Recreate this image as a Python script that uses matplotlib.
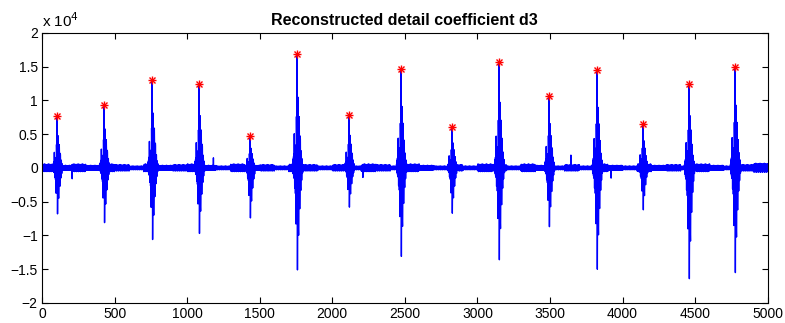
import numpy as np
import matplotlib
matplotlib.use("Agg")
import matplotlib.pyplot as plt

plt.rcParams['font.family'] = ['Liberation Sans', 'DejaVu Sans']

# signal length (samples)
n_samples = 5000

# R-peak positions, peak heights and trough depths (x 10^4)
peak_pos = [103, 427, 758, 1081, 1432, 1756, 2114, 2472, 2823, 3147, 3492, 3822, 4139, 4456, 4773]
peak_val = [0.77, 0.93, 1.31, 1.25, 0.47, 1.69, 0.78, 1.47, 0.60, 1.57, 1.06, 1.45, 0.65, 1.25, 1.50]
trough_val = [-0.68, -0.81, -1.06, -0.97, -0.74, -1.51, -0.58, -1.31, -0.67, -1.36, -0.87, -1.50, -0.62, -1.64, -1.55]

# beat burst shape, offsets -30..+40 (positive part scaled by peak, negative by trough)
beat_shape = [0.04, -0.05, 0.06, -0.04, 0.08, -0.06, 0.10, -0.08, 0.12, -0.10,
              0.22, 0.30, 0.10, -0.15, -0.20, 0.05, 0.18, 0.10, -0.15, -0.25,
              -0.10, 0.20, -0.30, -0.55, -0.40, 0.10, 0.45, 0.25, -0.25, 0.50,
              1.00,
              0.40, -0.50, -1.00, -0.60, 0.10, 0.50, 0.62, 0.45, -0.20, -0.60,
              -0.66, -0.45, 0.05, 0.40, 0.45, 0.30, -0.10, -0.38, -0.40, -0.25,
              0.10, 0.28, 0.25, 0.05, -0.18, -0.22, -0.10, 0.10, 0.15, 0.08,
              -0.08, -0.12, -0.06, 0.06, 0.08, 0.03, -0.04, -0.05, 0.02, 0.03]
shape_start = -30

# baseline wiggle pattern and its amplitude per 100 samples
noise_pattern = [0.3, -0.5, 0.8, -0.2, -0.9, 0.6, 0.1, -0.4, 0.9, -0.7, 0.2, 0.5, -0.8, 0.4,
                 -0.1, -0.6, 1.0, -0.3, 0.7, -0.9, 0.2, -0.2, 0.6, -0.5, 0.9, -0.8, 0.1, 0.4, -0.6]
noise_env = [0.06, 0.04, 0.06, 0.04, 0.06, 0.05, 0.03, 0.06, 0.04, 0.05,
             0.06, 0.04, 0.03, 0.06, 0.04, 0.05, 0.03, 0.06, 0.05, 0.03,
             0.05, 0.03, 0.06, 0.05, 0.03, 0.06, 0.04, 0.03, 0.05, 0.03,
             0.06, 0.05, 0.03, 0.06, 0.04, 0.03, 0.05, 0.03, 0.06, 0.04,
             0.03, 0.06, 0.04, 0.05, 0.03, 0.06, 0.04, 0.03, 0.05, 0.07]

# isolated small spikes in the baseline
spike_pos = [207, 1180, 2210, 3643, 3920]
spike_val = [-0.16, 0.15, -0.14, 0.19, -0.15]

# build signal
sig = np.zeros(n_samples)
pat = np.array(noise_pattern)
env = np.repeat(noise_env, 100)
sig += np.resize(pat, n_samples) * env[:n_samples]
for p, s in zip(spike_pos, spike_val):
    sig[p] = s
shape = np.array(beat_shape)
for p, pk, tr in zip(peak_pos, peak_val, trough_val):
    scaled = np.where(shape > 0, shape * pk, shape * abs(tr))
    idx = np.arange(len(shape)) + p + shape_start
    sig[idx] = scaled
x = np.arange(1, n_samples + 1)

fig = plt.figure(figsize=(7.85, 3.23), dpi=100)
ax = fig.add_axes([0.0535, 0.062, 0.9245, 0.836])
ax.plot(x, sig, color='#0000ff', lw=1.0)
# MATLAB-style asterisk marker: plus + cross
px = np.array(peak_pos) + 1
ax.plot(px, sig[peak_pos], '+', color='red', ms=6, mew=1.0)
ax.plot(px, sig[peak_pos], 'x', color='red', ms=5, mew=1.0)

ax.set_xlim(0, 5000)
ax.set_ylim(-2, 2)
ax.set_xticks(np.arange(0, 5001, 500))
ax.set_yticks(np.arange(-2, 2.01, 0.5))
ax.set_yticklabels(['\u22122', '\u22121.5', '\u22121', '\u22120.5', '0', '0.5', '1', '1.5', '2'])
ax.tick_params(direction='in', top=True, right=True, labelsize=10, length=4, width=0.8, pad=3)
for s in ax.spines.values():
    s.set_linewidth(0.8)
ax.set_title('Reconstructed detail coefficient d3', fontsize=11.5, fontweight='bold', pad=6)
ax.text(0.0, 1.012, r'x 10$^4$', transform=ax.transAxes, fontsize=11, ha='left', va='bottom')

fig.savefig('out.png', dpi=100)
